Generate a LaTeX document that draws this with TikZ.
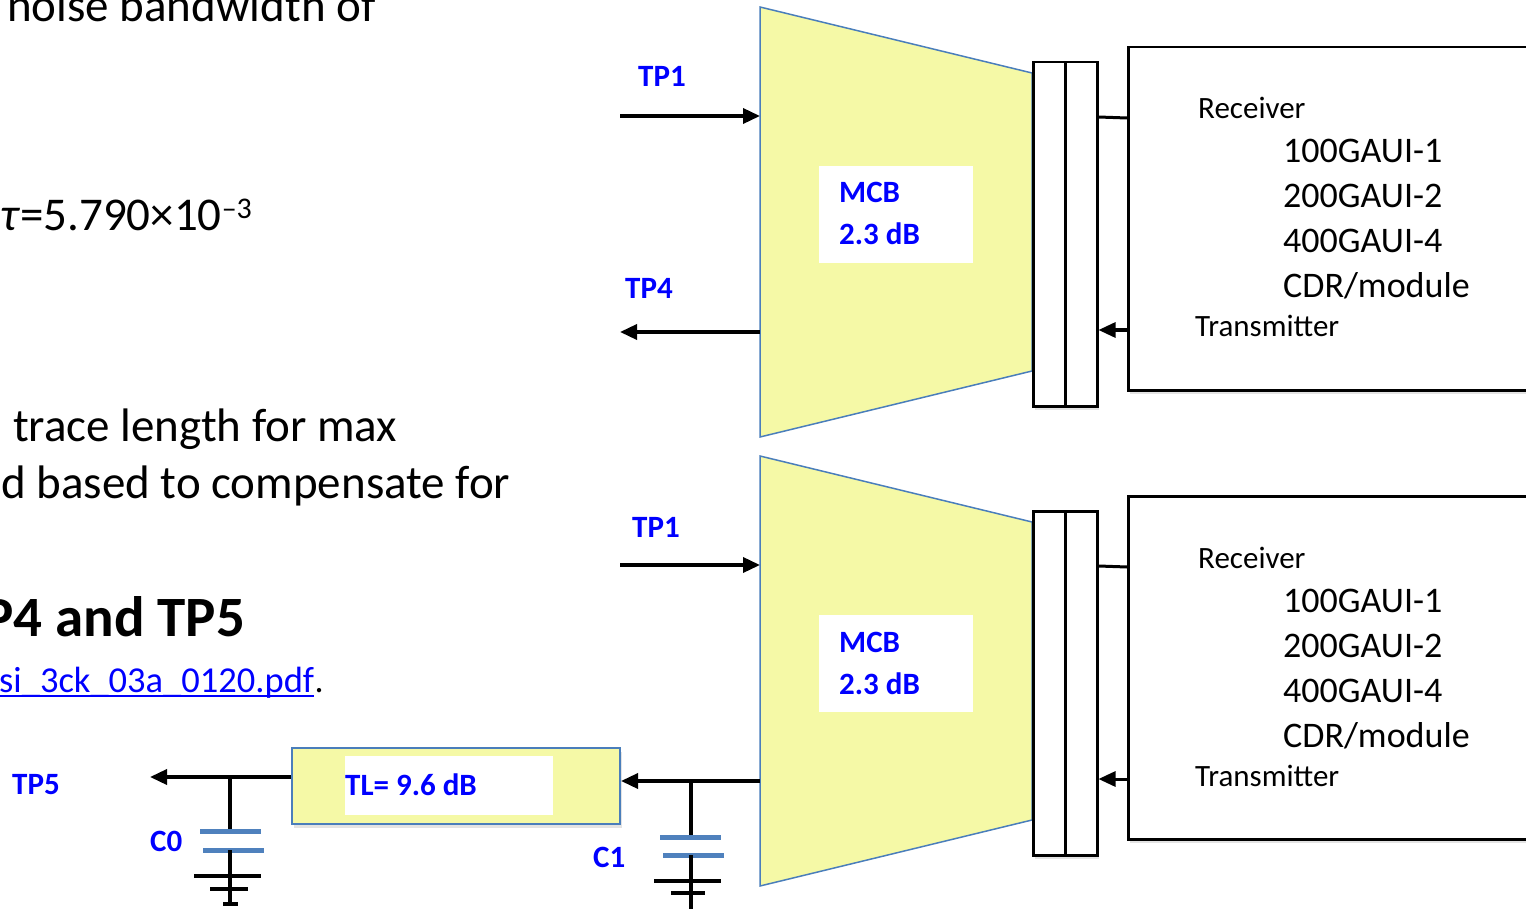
\documentclass[tikz,border=0pt]{standalone}
\usepackage{fontspec}
\setmainfont{Carlito}
\usetikzlibrary{arrows.meta,shadows,calc}
\definecolor{tpblue}{HTML}{0000FF}
\definecolor{mcbfill}{HTML}{F5F9A6}
\definecolor{mcbedge}{HTML}{4A7EBB}
\definecolor{capblue}{HTML}{4F81BD}
\begin{document}
\begin{tikzpicture}[x=1pt,y=-1pt,
  txt/.style={inner sep=0pt, anchor=base west},
  body/.style={txt, font=\fontsize{47}{56}\selectfont},
  head/.style={txt, font=\bfseries\fontsize{57}{66}\selectfont},
  linktxt/.style={txt, font=\fontsize{36.5}{42}\selectfont, text=tpblue},
  tplbl/.style={txt, font=\bfseries\fontsize{31}{36}\selectfont, text=tpblue},
  rxtxt/.style={txt, font=\fontsize{31}{36}\selectfont},
  gauitxt/.style={txt, font=\fontsize{36}{42}\selectfont},
  sig/.style={line width=3.5pt, -{Triangle[length=17pt,width=15pt]}},
  wire/.style={line width=3.5pt},
  plate/.style={line width=5pt, draw=capblue},
  trap/.style={fill=mcbfill, draw=mcbedge, line width=1.5pt, line join=miter},
  soft/.style={drop shadow={shadow xshift=2pt, shadow yshift=-4pt, opacity=0.22}},
  pinbox/.style={draw=black, fill=white, line width=2.5pt, minimum width=32pt,
    minimum height=344pt, anchor=north west, inner sep=0pt, soft},
  rxbox/.style={draw=black, fill=white, line width=2.5pt, minimum width=430pt,
    minimum height=343pt, anchor=north west, inner sep=0pt, soft},
  whitebox/.style={fill=white, draw=none, anchor=north west, inner sep=0pt},
  tlbox/.style={fill=mcbfill, draw=mcbedge, line width=2pt, anchor=north west,
    inner sep=0pt, minimum width=328pt, minimum height=76pt, soft}
]
\useasboundingbox (0,0) rectangle (1526,909);

% ---------- left text ----------
\node[body] (t1) at (7,22) {noise bandwidth of};
\node[body] (t2) at (0,231) {\textit{τ}=5.790×10\raisebox{12pt}{\fontsize{30}{30}\selectfont –3}};
\node[body] (t3) at (13,441) {trace length for max};
\node[body] (t4) at (1,498) {d based to compensate for};
\node[head] (t5) at (-17,636) {P4 and TP5};
\node[linktxt] (lk) at (-1,692) {si\_3ck\_03a\_0120.pdf};
\node[txt, font=\fontsize{36}{42}\selectfont, anchor=base west] (lkdot) at (lk.base east) {.};
\draw[tpblue, line width=1.6pt] ($(lk.base west)+(0,4)$) -- ($(lk.base east)+(0,4)$);

% ---------- two identical channels ----------
\foreach \s/\dy in {a/0, b/449} {
\begin{scope}[shift={(0,\dy)}]
  \coordinate (tlt\s) at (760,7);
  \coordinate (trt\s) at (1032,73);
  \coordinate (trb\s) at (1032,371);
  \coordinate (tlb\s) at (760,437);
  \path[trap] (tlt\s) -- (trt\s) -- (trb\s) -- (tlb\s) -- cycle;
  \node[whitebox, minimum width=154pt, minimum height=97pt] (mw\s) at (819,166) {};
  \node[tplbl] (mcb\s) at (839,203) {MCB};
  \node[tplbl] (db\s) at (839,245) {2.3 dB};
  \node[pinbox] (c1\s) at (1032,61) {};
  \node[pinbox] (c2\s) at (1064,61) {};
  \node[rxbox] (rx\s) at (1127,46) {};
  \node[rxtxt] (rcv\s) at (1198,119) {Receiver};
  \node[gauitxt] (g1\s) at (1283,163) {100GAUI-1};
  \node[gauitxt] (g2\s) at (1283,208) {200GAUI-2};
  \node[gauitxt] (g3\s) at (1283,253) {400GAUI-4};
  \node[gauitxt] (g4\s) at (1283,298) {CDR/module};
  \node[rxtxt] (tx\s) at (1195,337) {Transmitter};
  \coordinate (rxy\s) at (0,117);
  \coordinate (txy\s) at (0,330);
  \draw[line width=3pt] (c2\s.east |- rxy\s) -- ($(rx\s.west |- rxy\s)+(0,1)$);
  \draw[sig, line width=3pt] (rx\s.west |- txy\s) -- (c2\s.east |- txy\s);
  \coordinate (tp1s\s) at (620,116);
  \draw[sig] (tp1s\s) -- (tlt\s |- tp1s\s);
\end{scope}
}
\node[tplbl] (tp1a) at (638,87) {TP1};
\node[tplbl] (tp1b) at (632,537) {TP1};

% ---------- top: TP4 ----------
\coordinate (tp4e) at (620,332);
\draw[sig] (tlta |- tp4e) -- (tp4e);
\node[tplbl] (tp4) at (625,299) {TP4};

% ---------- bottom: TL, C1, C0, TP5 ----------
\node[tlbox] (tl) at (291,747) {};
\node[whitebox, minimum width=208pt, minimum height=59pt] (tlw) at (345,756) {};
\node[tplbl] (tltxt) at (345,795) {TL= 9.6 dB};

\coordinate (j1) at (691,781);
\draw[sig] (tltb |- j1) -- (tl.east |- j1);
\draw[wire] (j1) -- (691,837);
\draw[plate] (660,837) -- (721,837);
\draw[plate] (663,855) -- (724,855);
\draw[wire] (691,855) -- (691,912);
\draw[wire] (654,881) -- (721,881);
\draw[wire] (671,893) -- (705,893);
\node[tplbl] (c1lbl) at (593,867) {C1};

\coordinate (j0) at (230,777);
\coordinate (tp5e) at (150,777);
\draw[sig] (tl.west |- j0) -- (tp5e);
\draw[wire] (j0) -- (230,831);
\draw[plate] (200,831) -- (261,831);
\draw[plate] (203,850) -- (264,850);
\draw[wire] (230,850) -- (230,904);
\draw[wire] (194,876) -- (261,876);
\draw[wire] (210,889) -- (248,889);
\draw[wire] (223,904) -- (238,904);
\node[tplbl] (c0lbl) at (150,851) {C0};
\node[tplbl] (tp5) at (12,794) {TP5};
\end{tikzpicture}
\end{document}
